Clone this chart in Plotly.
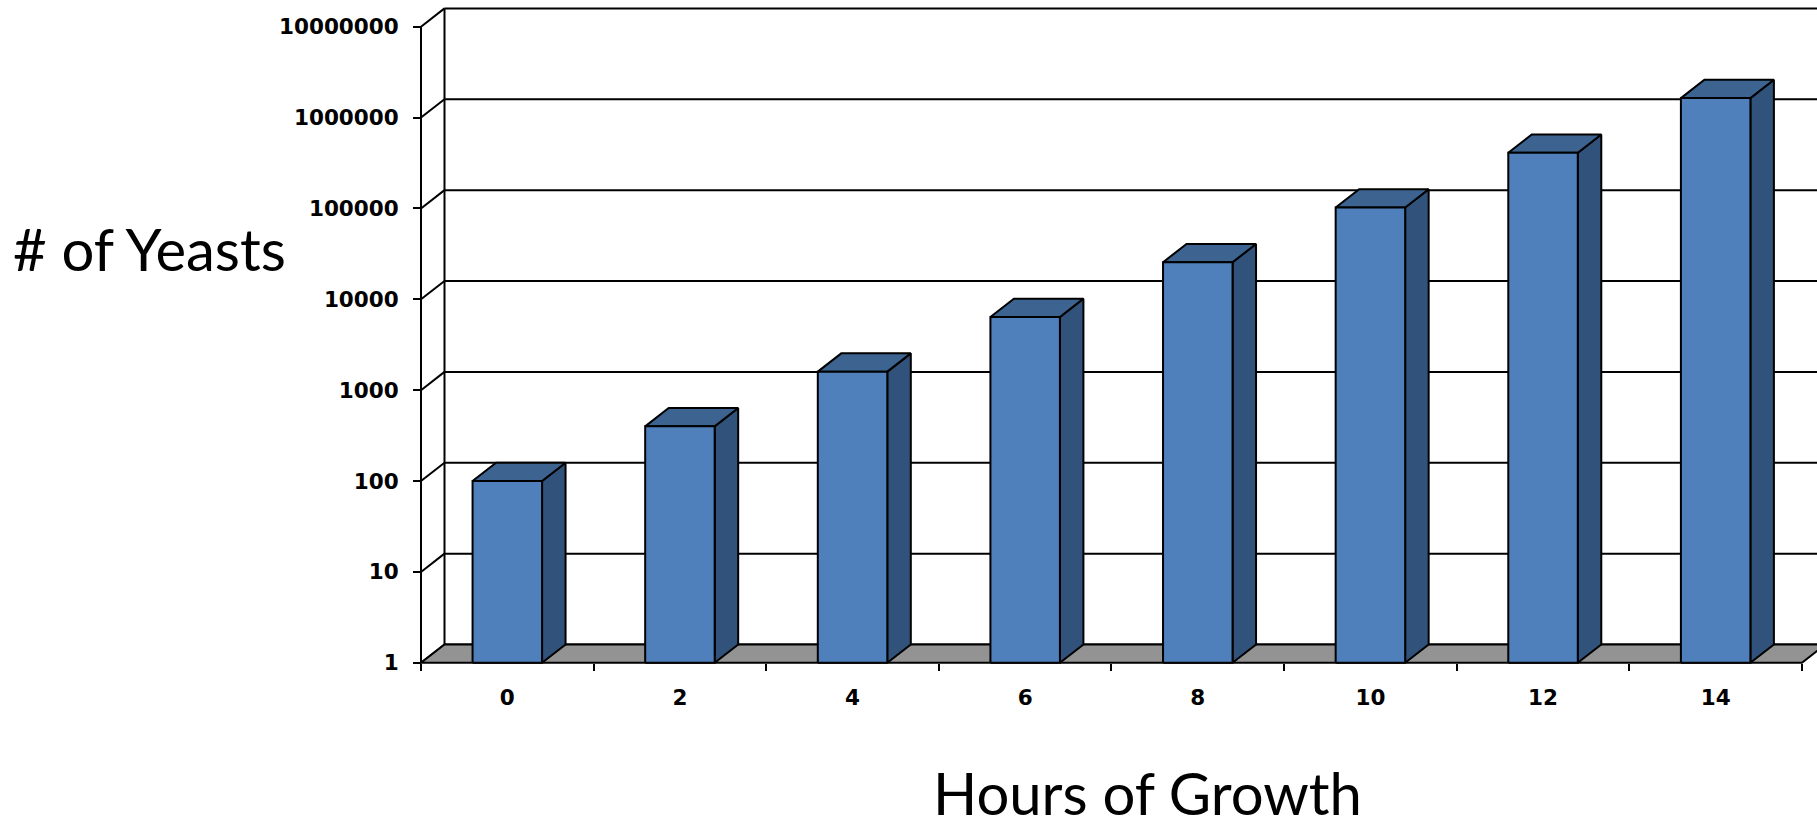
import plotly.graph_objects as go

# ---------------- data ----------------
hours = [0, 2, 4, 6, 8, 10, 12, 14]
yeasts = [100, 400, 1600, 6400, 25600, 102400, 409600, 1638400]
y_tick_values = [1, 10, 100, 1000, 10000, 100000, 1000000, 10000000]
y_tick_labels = ["1", "10", "100", "1000", "10000", "100000", "1000000", "10000000"]
x_tick_labels = ["0", "2", "4", "6", "8", "10", "12", "14"]
x_title = "Hours of Growth"
y_title = "# of Yeasts"

# ---------------- layout constants (pixels) ----------------
W, H = 1817, 828
PX_PER_HOUR = 86.31
PX_PER_DEC = 90.87
X0_PX = 421.0      # front-left corner of the chart frame
Y0_PX = 662.8      # value 1 on the front plane
DEPTH_DX = 23.5
DEPTH_DY = 18.3
BAR_W_PX = 69.5

FRONT = "#4f80bc"
TOP = "#3d6491"
SIDE = "#31527a"
FLOOR = "#939393"
LINE = dict(color="black", width=2)

dxh = DEPTH_DX / PX_PER_HOUR
dyd = DEPTH_DY / PX_PER_DEC
bw = BAR_W_PX / PX_PER_HOUR
step = hours[1] - hours[0]
x_left = hours[0] - step / 2
x_right = hours[-1] + step / 2
xr = [x_left - X0_PX / PX_PER_HOUR, x_left + (W - X0_PX) / PX_PER_HOUR]
yr = [-(H - Y0_PX) / PX_PER_DEC, Y0_PX / PX_PER_DEC]
ymin, ymax = y_tick_values[0], y_tick_values[-1]


def up(v):
    return v * 10 ** dyd


fig = go.Figure()


def add_lines(xs, ys):
    fig.add_trace(go.Scatter(x=xs, y=ys, mode="lines", line=LINE,
                             hoverinfo="skip", showlegend=False))


def add_poly(xs, ys, color):
    fig.add_trace(go.Scatter(x=xs, y=ys, mode="lines", fill="toself",
                             fillcolor=color, line=LINE,
                             hoverinfo="skip", showlegend=False))


# back wall gridlines
gx, gy = [], []
for tv in y_tick_values:
    gx += [x_left + dxh, xr[1] + 1, None]
    gy += [up(tv), up(tv), None]
add_lines(gx, gy)
# back wall left edge
add_lines([x_left + dxh, x_left + dxh], [up(ymin), up(ymax)])
# side wall diagonals
sx, sy = [], []
for tv in y_tick_values:
    sx += [x_left, x_left + dxh, None]
    sy += [tv, up(tv), None]
add_lines(sx, sy)
# floor
add_poly([x_left, x_right, x_right + dxh, x_left + dxh, x_left],
         [ymin, ymin, up(ymin), up(ymin), ymin], FLOOR)
# front value axis
add_lines([x_left, x_left], [ymin, ymax])

# bars
fx, fy, tx, ty, rx, ry = [], [], [], [], [], []
for h, v in zip(hours, yeasts):
    l, r = h - bw / 2, h + bw / 2
    fx += [l, r, r, l, l, None]
    fy += [ymin, ymin, v, v, ymin, None]
    tx += [l, r, r + dxh, l + dxh, l, None]
    ty += [v, v, up(v), up(v), v, None]
    rx += [r, r + dxh, r + dxh, r, r, None]
    ry += [ymin, up(ymin), up(v), v, ymin, None]
add_poly(rx, ry, SIDE)
add_poly(tx, ty, TOP)
add_poly(fx, fy, FRONT)

# dummy trace for secondary x axis (tick marks at category boundaries)
fig.add_trace(go.Scatter(x=[hours[0]], y=[ymin], xaxis="x2", mode="markers",
                         marker=dict(opacity=0), hoverinfo="skip", showlegend=False))

tick_font = dict(family="DejaVu Sans", size=21.5, color="black", weight="bold")
title_font = dict(family="Lato", size=58, color="black")

fig.update_layout(
    width=W, height=H,
    margin=dict(l=0, r=0, t=0, b=0),
    paper_bgcolor="white", plot_bgcolor="white",
    xaxis=dict(range=xr, showgrid=False, zeroline=False, showline=False,
               tickvals=hours, ticktext=x_tick_labels, ticks="",
               tickfont=tick_font, anchor="free",
               position=(H - Y0_PX) / H, ticklabelstandoff=20),
    xaxis2=dict(range=xr, overlaying="x", showgrid=False, zeroline=False,
                showline=False, anchor="free", position=(H - Y0_PX) / H,
                side="bottom",
                tickvals=[x_left + step * i for i in range(len(hours) + 1)],
                showticklabels=False, ticks="outside", ticklen=7,
                tickwidth=1.5, tickcolor="black"),
    yaxis=dict(type="log", range=yr, showgrid=False, zeroline=False,
               showline=False, tickvals=y_tick_values, ticktext=y_tick_labels,
               ticks="outside", ticklen=8, tickwidth=1.5, tickcolor="black",
               tickfont=tick_font, anchor="free", position=X0_PX / W,
               ticklabelstandoff=10),
    annotations=[
        dict(text=y_title, xref="paper", yref="paper",
             x=149 / W, y=1 - 248 / H, xanchor="center", yanchor="middle",
             showarrow=False, font=title_font),
        dict(text=x_title, xref="paper", yref="paper",
             x=1147 / W, y=1 - 792 / H, xanchor="center", yanchor="middle",
             showarrow=False, font=title_font),
    ],
)

fig.write_html("out.html")
